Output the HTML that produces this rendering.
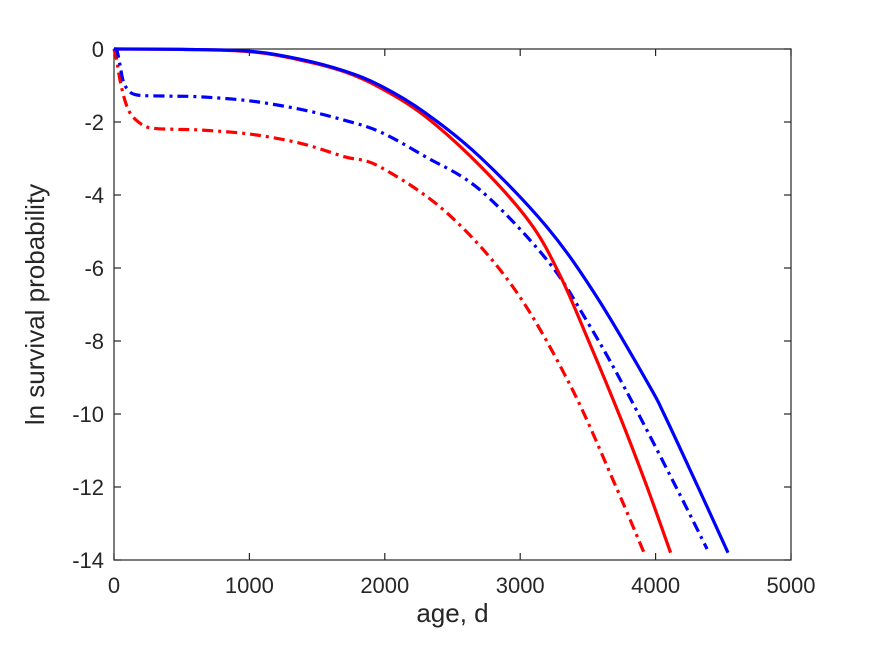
<!DOCTYPE html>
<html><head><meta charset="utf-8"><style>body{margin:0;background:#fff}svg{display:block;font-family:"Liberation Sans",sans-serif}</style></head>
<body>
<svg id="chart" width="875" height="656" viewBox="0 0 875 656"></svg>
<script>
const xTicks=[0,1000,2000,3000,4000,5000];
const yTicks=[0,-2,-4,-6,-8,-10,-12,-14];
const redSolidX=[0,500,1000,1374,1700,1965,2300,2703,3072,3294,3500,3740,3937,4111];
const redSolidY=[0,-0.01,-0.07,-0.3,-0.62,-1.06,-1.85,-3.2,-4.75,-6.2,-7.95,-10.1,-12,-13.8];
const blueSolidX=[0,500,1000,1374,1700,1965,2300,2703,3198,3567,3950,4062,4313,4535];
const blueSolidY=[0,-0.01,-0.06,-0.28,-0.6,-1.0,-1.75,-2.96,-4.88,-6.8,-9.2,-10,-12,-13.8];
const blueDashX=[0,22,45,66,100,170,400,635,1000,1374,1700,1965,2300,2703,3198,3500,3774,4151,4380];
const blueDashY=[0,-0.05,-0.45,-0.85,-1.1,-1.26,-1.29,-1.31,-1.42,-1.65,-1.95,-2.27,-2.95,-3.86,-5.78,-7.5,-9.3,-12,-13.7];
const redDashX=[0,20,44,80,118,180,266,450,635,1000,1374,1700,1965,2459,2947,3368,3708,3914];
const redDashY=[0,-0.3,-0.85,-1.4,-1.75,-2.0,-2.16,-2.2,-2.22,-2.33,-2.58,-2.95,-3.23,-4.49,-6.52,-9.2,-12,-13.8];
const L=114,R=791,T=49,B=560;
const sx=v=>L+(v-0)/(5000-0)*(R-L);
const sy=v=>T+(0-v)/(14)*(B-T);
const svg=document.getElementById('chart');
const NS='http://www.w3.org/2000/svg';
function mk(tag,attrs,parent){const e=document.createElementNS(NS,tag);for(const k in attrs)e.setAttribute(k,attrs[k]);(parent||svg).appendChild(e);return e;}
const box=mk('rect',{x:L,y:T,width:R-L,height:B-T,fill:'#fff',stroke:'#262626','stroke-width':1.2});


xTicks.forEach(t=>{const x=sx(t);
 mk('line',{x1:x,x2:x,y1:B,y2:B-7,stroke:'#262626','stroke-width':1.2});
 mk('line',{x1:x,x2:x,y1:T,y2:T+7,stroke:'#262626','stroke-width':1.2});
 const tx=mk('text',{x:x,y:B+33,'text-anchor':'middle','font-size':22,fill:'#262626'});tx.textContent=t;
 
 
});
yTicks.forEach(t=>{const y=sy(t);
 mk('line',{x1:L,x2:L+7,y1:y,y2:y,stroke:'#262626','stroke-width':1.2});
 mk('line',{x1:R,x2:R-7,y1:y,y2:y,stroke:'#262626','stroke-width':1.2});
 const tx=mk('text',{x:L-10,y:y+8,'text-anchor':'end','font-size':22,fill:'#262626'});tx.textContent=t;
 
 
});
function series(xs,ys,color,dash,name){
 const P=xs.map((v,i)=>[sx(v),sy(ys[i])]);
 let d='M'+P[0][0].toFixed(1)+','+P[0][1].toFixed(1);
 for(let i=0;i<P.length-1;i++){
  const p0=P[Math.max(0,i-1)],p1=P[i],p2=P[i+1],p3=P[Math.min(P.length-1,i+2)];
  const c1=[p1[0]+(p2[0]-p0[0])/6,p1[1]+(p2[1]-p0[1])/6];
  const c2=[p2[0]-(p3[0]-p1[0])/6,p2[1]-(p3[1]-p1[1])/6];
  d+=' C'+c1.map(v=>v.toFixed(1)).join(',')+' '+c2.map(v=>v.toFixed(1)).join(',')+' '+p2.map(v=>v.toFixed(1)).join(',');
 }
 const p=mk('path',{d:d,fill:'none',stroke:color,'stroke-width':3.2,'stroke-linejoin':'round'});
 if(dash)p.setAttribute('stroke-dasharray',dash);
 
 
}
series(redDashX,redDashY,'#ff0000','11,5,3,5','red-dashdot-line');
series(blueDashX,blueDashY,'#0000ff','11,5,3,5','blue-dashdot-line');
series(redSolidX,redSolidY,'#ff0000',null,'red-solid-line');
series(blueSolidX,blueSolidY,'#0000ff',null,'blue-solid-line');
const xl=mk('text',{x:(L+R)/2,y:622,'text-anchor':'middle','font-size':26,fill:'#262626'});xl.textContent='age, d';


const yl=mk('text',{x:0,y:0,'text-anchor':'middle','font-size':26,fill:'#262626',transform:'translate(44,'+((T+B)/2)+') rotate(-90)'});yl.textContent='ln survival probability';


</script>
</body></html>
